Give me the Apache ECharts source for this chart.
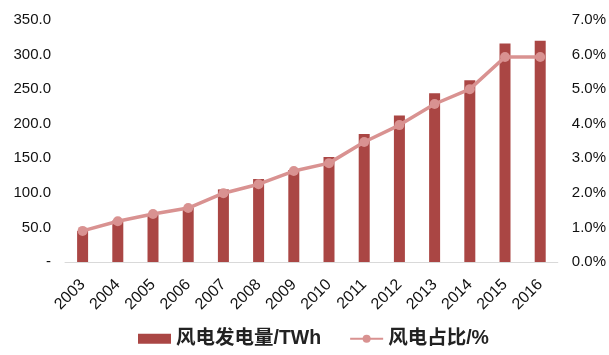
<!DOCTYPE html>
<html>
<head>
<meta charset="utf-8">
<script src="https://cdn.jsdelivr.net/npm/echarts@6/dist/echarts.min.js"></script>
<style>
  html, body { margin: 0; padding: 0; background: #fff; }
  #chart { width: 609px; height: 355px; }
</style>
</head>
<body>
<div id="chart"></div>
<script>
// Wind power generation (TWh) and its share of total generation (%)
var years = ['2003', '2004', '2005', '2006', '2007', '2008', '2009', '2010', '2011', '2012', '2013', '2014', '2015', '2016'];
var generation = [45, 60, 68, 79, 105, 120, 133, 152, 185, 212, 244, 263, 316, 320];
var sharePct = [0.9, 1.18, 1.39, 1.56, 1.99, 2.25, 2.63, 2.86, 3.47, 3.96, 4.57, 5.0, 5.93, 5.93];
var seriesNames = ['风电发电量/TWh', '风电占比/%'];

var fontLatin = '"Liberation Sans", Arial, "Noto Sans CJK SC", sans-serif';
var barColor = '#AA4644';
var lineColor = '#D99291';

var chart = echarts.init(document.getElementById('chart'));
chart.setOption({
  animation: false,
  textStyle: { fontFamily: fontLatin },
  grid: { left: 65, right: 49, top: 20, bottom: 93, containLabel: false },
  legend: {
    left: 133,
    top: 324,
    itemGap: 28,
    itemWidth: 33,
    itemHeight: 10,
    textStyle: { fontSize: 19.5, fontWeight: 'bold', color: '#222', fontFamily: fontLatin },
    data: [
      { name: seriesNames[0], icon: 'rect' },
      { name: seriesNames[1] }
    ]
  },
  xAxis: {
    type: 'category',
    data: years,
    axisLine: { lineStyle: { color: '#D9D9D9', width: 1 } },
    axisTick: { show: false },
    axisLabel: { rotate: 45, fontSize: 16, color: '#111', margin: 20, interval: 0 }
  },
  yAxis: [
    {
      type: 'value',
      min: 0, max: 350, interval: 50,
      splitLine: { show: false },
      axisLine: { show: false },
      axisTick: { show: false },
      axisLabel: {
        fontSize: 15, color: '#111', margin: 14,
        formatter: function (v) { return v === 0 ? '-' : v.toFixed(1); }
      }
    },
    {
      type: 'value',
      min: 0, max: 7, interval: 1,
      splitLine: { show: false },
      axisLine: { show: false },
      axisTick: { show: false },
      axisLabel: {
        fontSize: 15, color: '#111', margin: 14,
        formatter: function (v) { return v.toFixed(1) + '%'; }
      }
    }
  ],
  series: [
    {
      name: seriesNames[0],
      type: 'bar',
      data: generation,
      barWidth: 11,
      itemStyle: { color: barColor }
    },
    {
      name: seriesNames[1],
      type: 'line',
      yAxisIndex: 1,
      data: sharePct,
      symbol: 'circle',
      symbolSize: 10,
      lineStyle: { color: lineColor, width: 3.5 },
      itemStyle: { color: lineColor }
    }
  ]
});
</script>
</body>
</html>
